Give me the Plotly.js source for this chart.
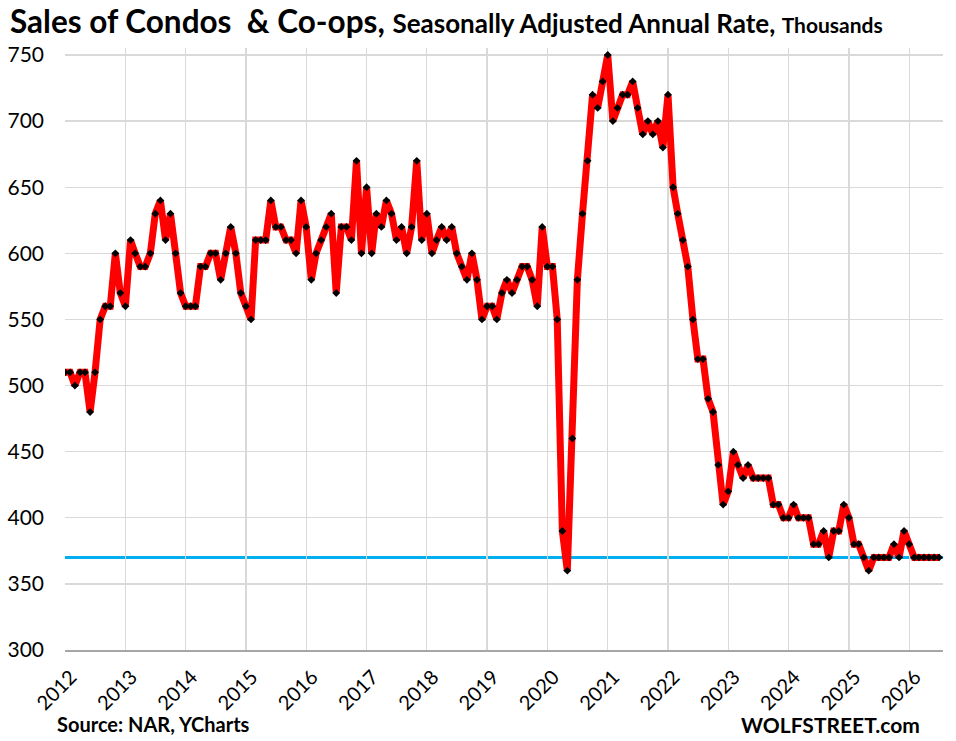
<!DOCTYPE html>
<html>
<head>
<meta charset="utf-8">
<script src="https://cdn.plot.ly/plotly-3.0.1.min.js"></script>
<style>
  html, body { margin: 0; padding: 0; background: #ffffff; }
  #chart { width: 956px; height: 741px; }
</style>
</head>
<body>
<div id="chart"></div>
<script>
// Monthly sales of condos & co-ops, SAAR, thousands (Jan 2012 onward)
const startYear = 2012;
const sales2012 = [510, 510, 500, 510, 510, 480, 510, 550, 560, 560, 600, 570];
const sales2013 = [560, 610, 600, 590, 590, 600, 630, 640, 610, 630, 600, 570];
const sales2014 = [560, 560, 560, 590, 590, 600, 600, 580, 600, 620, 600, 570];
const sales2015 = [560, 550, 610, 610, 610, 640, 620, 620, 610, 610, 600, 640];
const sales2016 = [620, 580, 600, 610, 620, 630, 570, 620, 620, 610, 670, 600];
const sales2017 = [650, 600, 630, 620, 640, 630, 610, 620, 600, 620, 670, 610];
const sales2018 = [630, 600, 610, 620, 610, 620, 600, 590, 580, 600, 580, 550];
const sales2019 = [560, 560, 550, 570, 580, 570, 580, 590, 590, 580, 560, 620];
const sales2020 = [590, 590, 550, 390, 360, 460, 580, 630, 670, 720, 710, 730];
const sales2021 = [750, 700, 710, 720, 720, 730, 710, 690, 700, 690, 700, 680];
const sales2022 = [720, 650, 630, 610, 590, 550, 520, 520, 490, 480, 440, 410];
const sales2023 = [420, 450, 440, 430, 440, 430, 430, 430, 430, 410, 410, 400];
const sales2024 = [400, 410, 400, 400, 400, 380, 380, 390, 370, 390, 390, 410];
const sales2025 = [400, 380, 380, 370, 360, 370, 370, 370, 370, 380, 370, 390];
const sales2026 = [380, 370, 370, 370, 370, 370, 370];
const referenceLevel = 370;

const yearLabels = ['2012','2013','2014','2015','2016','2017','2018','2019',
                    '2020','2021','2022','2023','2024','2025','2026'];
const yTicks = [300, 350, 400, 450, 500, 550, 600, 650, 700, 750];

const sales = [].concat(sales2012, sales2013, sales2014, sales2015, sales2016,
  sales2017, sales2018, sales2019, sales2020, sales2021, sales2022, sales2023,
  sales2024, sales2025, sales2026);
const dates = sales.map((v, i) => {
  const y = startYear + Math.floor(i / 12);
  const m = (i % 12) + 1;
  return y + '-' + String(m).padStart(2, '0') + '-01';
});

const FONT = 'Lato, "Open Sans", sans-serif';

const traces = [{
  x: dates,
  y: sales,
  type: 'scatter',
  mode: 'lines+markers',
  line: { color: '#ff0000', width: 7 },
  marker: { symbol: 'diamond', size: 6, color: '#000000' },
  hoverinfo: 'x+y'
}];

const layout = {
  width: 956,
  height: 741,
  paper_bgcolor: '#ffffff',
  plot_bgcolor: '#ffffff',
  margin: { l: 65, r: 13, t: 48, b: 91 },
  showlegend: false,
  font: { family: FONT, color: '#000000' },
  title: {
    text: '<b>Sales of Condos&nbsp; &amp; Co-ops, <span style="font-size:26px">Seasonally Adjusted Annual Rate, </span><span style="font-size:21px">Thousands</span></b>',
    font: { family: FONT, size: 31.5, color: '#000000' },
    x: 10 / 956,
    xref: 'container',
    xanchor: 'left',
    y: 1 - 22 / 741,
    yref: 'container',
    yanchor: 'middle'
  },
  xaxis: {
    type: 'date',
    range: ['2012-01-01', '2026-07-25'],
    tickvals: yearLabels.map(y => y + '-01-01'),
    ticktext: yearLabels,
    tickangle: -45,
    tickfont: { family: FONT, size: 20, color: '#000000' },
    ticklabelstandoff: 6,
    ticklabelshift: 6,
    showgrid: true,
    gridcolor: '#d9d9d9',
    gridwidth: 1.3,
    showline: true,
    linecolor: '#a6a6a6',
    linewidth: 1.5,
    zeroline: false,
    ticks: ''
  },
  yaxis: {
    range: [300, 755.3],
    tickvals: yTicks,
    ticktext: yTicks.map(String),
    tickfont: { family: FONT, size: 21, color: '#000000' },
    showgrid: true,
    gridcolor: '#d9d9d9',
    gridwidth: 1.3,
    showline: false,
    zeroline: false,
    ticks: '',
    ticklabelstandoff: 20
  },
  shapes: [{
    type: 'line',
    xref: 'paper', x0: 0, x1: 1,
    yref: 'y', y0: referenceLevel, y1: referenceLevel,
    line: { color: '#00b0f0', width: 3 },
    layer: 'below'
  }],
  annotations: [{
    text: '<b>Source: NAR, YCharts</b>',
    xref: 'paper', yref: 'paper',
    x: (55 - 65) / 878, y: (650 - 724) / 602,
    xanchor: 'left', yanchor: 'middle',
    showarrow: false,
    font: { family: FONT, size: 20, color: '#000000' }
  }, {
    text: '<b>WOLFSTREET.com</b>',
    xref: 'paper', yref: 'paper',
    x: (922 - 65) / 878, y: (650 - 724) / 602,
    xanchor: 'right', yanchor: 'middle',
    showarrow: false,
    font: { family: FONT, size: 21, color: '#000000' }
  }]
};

Plotly.newPlot('chart', traces, layout, { displayModeBar: false, staticPlot: true });
</script>
</body>
</html>
